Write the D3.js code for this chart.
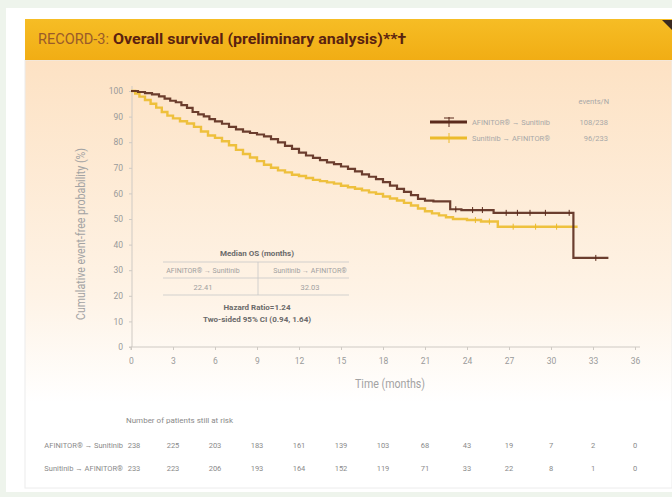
<!DOCTYPE html>
<html lang="en">
<head>
<meta charset="UTF-8">
<title>RECORD-3 Overall survival</title>
<script src="https://d3js.org/d3.v7.min.js"></script>
<style>
  html, body { margin: 0; padding: 0; background: #eef4ec; }
  svg { display: block; }
  text { font-family: "Liberation Sans Narrow", "Roboto", "Liberation Sans", sans-serif; }
</style>
</head>
<body>
<div id="chartArea"></div>
<script>
// ---- data ----
const groups = ["AFINITOR\u00AE \u2192 Sunitinib", "Sunitinib \u2192 AFINITOR\u00AE"];
const eventsN = ["108/238", "96/233"];
const timeTicks = [0, 3, 6, 9, 12, 15, 18, 21, 24, 27, 30, 33, 36];
const probTicks = [0, 10, 20, 30, 40, 50, 60, 70, 80, 90, 100];

// Kaplan-Meier steps [month, %]
const afinitorFirst = [
  [0, 100], [0.5, 99.6], [1.0, 99.2], [1.5, 98.7], [2.0, 97.9], [2.4, 97.0], [2.8, 96.2],
  [3.2, 95.6], [3.6, 94.5], [4.0, 93.4], [4.4, 91.8], [4.8, 90.9], [5.2, 90.1], [5.6, 89.0],
  [6.0, 88.1], [6.5, 87.2], [7.0, 86.0], [7.5, 85.0], [8.0, 84.1], [8.5, 83.6], [9.0, 83.0],
  [9.5, 82.3], [10.0, 81.2], [10.5, 79.9], [11.0, 78.6], [11.5, 77.4], [12.0, 75.9],
  [12.5, 74.8], [13.0, 73.9], [13.5, 73.0], [14.0, 72.1], [14.5, 71.4], [15.0, 70.5],
  [15.5, 69.6], [16.0, 68.6], [16.5, 67.4], [17.0, 66.5], [17.5, 65.6], [18.0, 64.4],
  [18.5, 63.0], [19.0, 61.8], [19.5, 60.6], [20.0, 59.3], [20.5, 57.9], [21.0, 57.2],
  [21.6, 56.9], [22.8, 53.8], [23.6, 53.5], [25.9, 52.4], [31.6, 34.8], [34.1, 34.8]
];
const sunitinibFirst = [
  [0, 100], [0.3, 99.0], [0.6, 97.8], [1.0, 96.5], [1.4, 95.0], [1.8, 93.5], [2.2, 91.8],
  [2.6, 90.4], [3.0, 89.3], [3.5, 88.2], [4.0, 87.3], [4.5, 86.0], [5.0, 84.2], [5.5, 82.6],
  [6.0, 81.7], [6.5, 80.4], [7.0, 78.8], [7.5, 77.0], [8.0, 75.4], [8.5, 74.0], [9.0, 72.6],
  [9.5, 71.2], [10.0, 70.0], [10.5, 69.0], [11.0, 68.2], [11.5, 67.3], [12.0, 66.8],
  [12.5, 66.0], [13.0, 65.3], [13.5, 64.8], [14.0, 64.3], [14.5, 63.8], [15.0, 63.0],
  [15.5, 62.4], [16.0, 61.8], [16.5, 61.2], [17.0, 60.4], [17.5, 59.8], [18.0, 58.8],
  [18.5, 58.0], [19.0, 57.2], [19.5, 56.3], [20.0, 55.3], [20.5, 54.1], [21.0, 53.0],
  [21.5, 52.2], [22.0, 51.4], [22.5, 50.7], [23.0, 50.0], [24.0, 49.6], [25.0, 49.0],
  [26.2, 47.0], [31.9, 47.0]
];
// censor ticks [month, %]
const censorA = [[23.2, 53.8], [24.4, 53.5], [25.1, 53.5], [26.8, 52.4], [27.6, 52.4], [28.5, 52.4], [29.6, 52.4], [31.3, 52.4], [33.2, 34.8]];
const censorS = [[24.6, 49.6], [25.6, 49.0], [27.3, 47.0], [28.9, 47.0], [30.4, 47.0]];

const atRiskA = [238, 225, 203, 183, 161, 139, 103, 68, 43, 19, 7, 2, 0];
const atRiskS = [233, 223, 206, 193, 164, 152, 119, 71, 33, 22, 8, 1, 0];

const medianOS = ["22.41", "32.03"];

const colA = "#5b2a1c", colS = "#ecbb2c";

// ---- page ----
const W = 672, H = 497;
const svg = d3.select("#chartArea").append("svg").attr("width", W).attr("height", H);
const defs = svg.append("defs");
const g1 = defs.append("linearGradient").attr("id", "bg").attr("x1", 0).attr("x2", 0).attr("y1", 0).attr("y2", 1);
g1.append("stop").attr("offset", "0%").attr("stop-color", "#fde2c4");
g1.append("stop").attr("offset", "55%").attr("stop-color", "#fef3e6");
g1.append("stop").attr("offset", "80%").attr("stop-color", "#ffffff");
const g2 = defs.append("linearGradient").attr("id", "bar").attr("x1", 0).attr("x2", 0).attr("y1", 0).attr("y2", 1);
g2.append("stop").attr("offset", "0%").attr("stop-color", "#f6bd25");
g2.append("stop").attr("offset", "100%").attr("stop-color", "#f1ad14");

svg.append("rect").attr("x", 6).attr("y", 8).attr("width", W - 6).attr("height", 484).attr("fill", "#fff");
svg.append("rect").attr("x", 25).attr("y", 60).attr("width", W - 25).attr("height", 428)
  .attr("fill", "url(#bg)").attr("stroke", "#ececec");
svg.append("rect").attr("x", 25).attr("y", 19).attr("width", W - 25).attr("height", 41).attr("fill", "url(#bar)");
svg.append("path").attr("d", "M662,20 L672,20 L672,30 Z").attr("fill", "#3a2a20");

svg.append("text").attr("x", 38).attr("y", 44).attr("font-size", 14).attr("fill", "#9a5b2a")
  .attr("textLength", 71).attr("lengthAdjust", "spacingAndGlyphs").text("RECORD-3:");
svg.append("text").attr("x", 113).attr("y", 44).attr("font-size", 14).attr("font-weight", "bold").attr("fill", "#5a2210")
  .attr("textLength", 293).attr("lengthAdjust", "spacingAndGlyphs").text("Overall survival (preliminary analysis)**\u2020");

// ---- scales ----
const x = d3.scaleLinear().domain([0, 36]).range([131, 635]);
const y = d3.scaleLinear().domain([0, 100]).range([347, 91]);

const yAxis = svg.append("g").attr("transform", "translate(132,0)")
  .call(d3.axisLeft(y).tickValues(probTicks).tickSize(3).tickPadding(6));
const xAxis = svg.append("g").attr("transform", "translate(0,347)")
  .call(d3.axisBottom(x).tickValues(timeTicks).tickSize(3).tickPadding(8));
[yAxis, xAxis].forEach(a => {
  a.select(".domain").attr("stroke", "#cfcac4");
  a.selectAll(".tick line").attr("stroke", "#cfcac4");
  a.selectAll(".tick text").attr("fill", "#9a9a9a").attr("font-size", 8.5);
});
yAxis.select(".domain").attr("d", "M-3,347H0V86");
xAxis.select(".domain").attr("d", "M131,3V0H640");

svg.append("text").attr("transform", "translate(85,234) rotate(-90)").attr("text-anchor", "middle")
  .attr("font-size", 12).attr("fill", "#a3a3a3").attr("textLength", 172).attr("lengthAdjust", "spacingAndGlyphs")
  .text("Cumulative event-free probability (%)");
svg.append("text").attr("x", 390).attr("y", 388).attr("text-anchor", "middle")
  .attr("font-size", 12).attr("fill", "#a3a3a3").attr("textLength", 70).attr("lengthAdjust", "spacingAndGlyphs")
  .text("Time (months)");

// ---- curves ----
const line = d3.line().x(d => x(d[0])).y(d => y(d[1])).curve(d3.curveStepAfter);
svg.append("path").datum(sunitinibFirst).attr("d", line).attr("fill", "none")
  .attr("stroke", colS).attr("stroke-width", 2.4).attr("opacity", 0.9);
svg.append("path").datum(afinitorFirst).attr("d", line).attr("fill", "none")
  .attr("stroke", colA).attr("stroke-width", 2.2).attr("opacity", 0.9);
svg.selectAll(".cs").data(censorS).join("line")
  .attr("x1", d => x(d[0])).attr("x2", d => x(d[0])).attr("y1", d => y(d[1]) - 3).attr("y2", d => y(d[1]) + 3)
  .attr("stroke", colS).attr("stroke-width", 1);
svg.selectAll(".ca").data(censorA).join("line")
  .attr("x1", d => x(d[0])).attr("x2", d => x(d[0])).attr("y1", d => y(d[1]) - 3).attr("y2", d => y(d[1]) + 3)
  .attr("stroke", colA).attr("stroke-width", 1);

// ---- legend ----
const leg = svg.append("g");
leg.append("text").attr("x", 609).attr("y", 104).attr("text-anchor", "end").attr("font-size", 7.5)
  .attr("fill", "#a8a8a8").text("events/N");
[colA, colS].forEach((c, i) => {
  const ly = 122 + i * 16;
  leg.append("line").attr("x1", 430).attr("x2", 467).attr("y1", ly).attr("y2", ly)
    .attr("stroke", c).attr("stroke-width", 3);
  leg.append("line").attr("x1", 449).attr("x2", 449).attr("y1", ly - 5).attr("y2", ly + 5)
    .attr("stroke", c).attr("stroke-width", 1);
  leg.append("line").attr("x1", 444).attr("x2", 454).attr("y1", ly - 4).attr("y2", ly - 4)
    .attr("stroke", c).attr("stroke-width", 1).attr("opacity", i === 0 ? 1 : 0);
  leg.append("text").attr("x", 472).attr("y", ly + 3).attr("font-size", 7.5).attr("fill", "#a8a8a8")
    .attr("textLength", 78).attr("lengthAdjust", "spacingAndGlyphs").text(groups[i]);
  leg.append("text").attr("x", 608).attr("y", ly + 3).attr("text-anchor", "end").attr("font-size", 7.5)
    .attr("fill", "#a8a8a8").text(eventsN[i]);
});

// ---- median OS table ----
const tb = svg.append("g");
tb.append("text").attr("x", 257).attr("y", 256).attr("text-anchor", "middle").attr("font-size", 8)
  .attr("font-weight", "bold").attr("fill", "#6a6a6a").text("Median OS (months)");
[262, 278, 295].forEach(ly => tb.append("line").attr("x1", 163).attr("x2", 349).attr("y1", ly).attr("y2", ly)
  .attr("stroke", "#c8c8c8").attr("stroke-width", 0.8));
tb.append("line").attr("x1", 258).attr("x2", 258).attr("y1", 262).attr("y2", 295).attr("stroke", "#c8c8c8").attr("stroke-width", 0.8);
[203, 310].forEach((cx, i) => {
  tb.append("text").attr("x", cx).attr("y", 273).attr("text-anchor", "middle").attr("font-size", 7)
    .attr("fill", "#a0a0a0").text(groups[i]);
  tb.append("text").attr("x", cx).attr("y", 290).attr("text-anchor", "middle").attr("font-size", 7.5)
    .attr("fill", "#a0a0a0").text(medianOS[i]);
});
tb.append("text").attr("x", 257).attr("y", 310).attr("text-anchor", "middle").attr("font-size", 8)
  .attr("font-weight", "bold").attr("fill", "#6a6a6a").text("Hazard Ratio=1.24");
tb.append("text").attr("x", 257).attr("y", 322).attr("text-anchor", "middle").attr("font-size", 8)
  .attr("font-weight", "bold").attr("fill", "#6a6a6a").text("Two-sided 95% CI (0.94, 1.64)");

// ---- number at risk ----
svg.append("text").attr("x", 126).attr("y", 423).attr("font-size", 8).attr("fill", "#8a8a8a")
  .text("Number of patients still at risk");
[atRiskA, atRiskS].forEach((row, i) => {
  const ry = 448 + i * 23;
  svg.append("text").attr("x", 123).attr("y", ry).attr("text-anchor", "end").attr("font-size", 7.5)
    .attr("fill", "#8a8a8a").text(groups[i]);
  svg.selectAll(null).data(row).join("text")
    .attr("x", (d, j) => x(timeTicks[j]) + (j === 0 ? 3 : 0)).attr("y", ry).attr("text-anchor", "middle")
    .attr("font-size", 7.5).attr("fill", "#8a8a8a").text(d => d);
});
</script>
</body>
</html>
